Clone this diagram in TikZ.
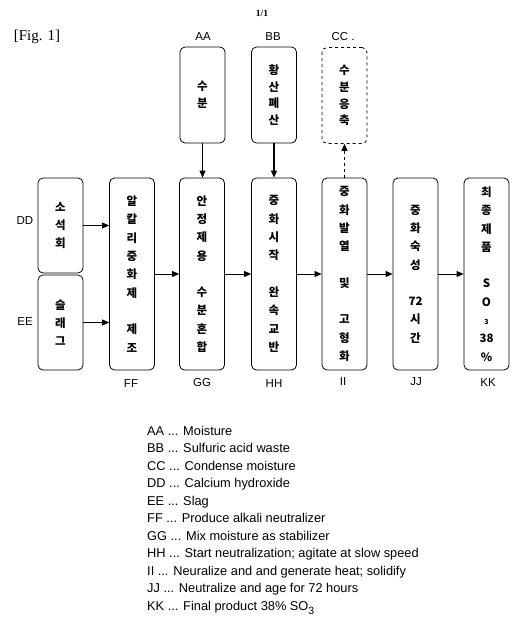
\documentclass[tikz,border=0pt]{standalone}
\usepackage{fontspec}
\setmainfont{Liberation Sans}
\newfontfamily\kr{Noto Sans CJK KR}
\newfontfamily\tms{Liberation Serif}
\usetikzlibrary{arrows.meta}
\begin{document}
\begin{tikzpicture}[x=1pt,y=-1pt,
  box/.style={draw, line width=0.8pt, rounded corners=5pt, minimum width=45pt, inner sep=0pt, align=center, font=\kr\bfseries\fontsize{11.5}{18.3}\selectfont},
  topbox/.style={box, minimum height=96pt, font=\kr\bfseries\fontsize{11.5}{16.8}\selectfont},
  mainbox/.style={box, minimum height=192pt},
  srcbox/.style={box, minimum height=95pt},
  lab/.style={font=\fontsize{11.5}{13}\selectfont},
  arr/.style={line width=0.8pt, -{Triangle[length=7pt,width=6pt]}},
]
\useasboundingbox (0,0) rectangle (525,632);
\node[font=\tms\bfseries\fontsize{9.5}{11}\selectfont] (pg) at (262,13) {1/1};
\node[font=\tms\fontsize{15}{17}\selectfont] (fig) at (37,37) {[Fig. 1]};
% top boxes
\node[topbox] (AA) at (202.5,95) {수\\분};
\node[topbox] (BB) at (274,95) {황\\산\\폐\\산};
\node[topbox, dashed] (CC) at (344.5,95.5) {수\\분\\응\\축};
% source boxes
\node[srcbox] (DD) at (60.5,225.5) {소\\석\\회};
\node[srcbox] (EE) at (60.5,322.5) {슬\\래\\그};
% main boxes
\node[mainbox] (FF) at (132,274) {알\\칼\\리\\중\\화\\제\\[18.3pt]제\\조};
\node[mainbox] (GG) at (202,274) {안\\정\\제\\용\\[18.3pt]수\\분\\혼\\합};
\node[mainbox] (HH) at (274,274) {중\\화\\시\\작\\[18.3pt]완\\속\\교\\반};
\node[mainbox] (II) at (344.5,274) {중\\화\\발\\열\\[18.3pt]및\\[18.3pt]고\\형\\화};
\node[mainbox] (JJ) at (415.5,274) {중\\화\\숙\\성\\[18.3pt]72\\시\\간};
\node[mainbox] (KK) at (486.5,274) {최\\종\\제\\품\\[18.3pt]S\\O\\{\fontsize{7}{7}\selectfont 3}\\38\\\%};
% labels
\node[lab] (lAA) at (203,37) {AA};
\node[lab] (lBB) at (273,37) {BB};
\node[lab, anchor=west] (lCC) at (328,37) {CC .};
\node[lab] (lDD) at (25,221) {DD};
\node[lab] (lEE) at (25,322) {EE};
\node[lab] (lFF) at (131,384) {FF};
\node[lab] (lGG) at (202,383) {GG};
\node[lab] (lHH) at (274,384) {HH};
\node[lab] (lII) at (343,382) {II};
\node[lab] (lJJ) at (416,382) {JJ};
\node[lab] (lKK) at (488,383) {KK};
% arrows
\draw[arr] (DD.east) -- (DD.east -| FF.west);
\draw[arr] (EE.east) -- (EE.east -| FF.west);
\draw[arr] (FF) -- (GG);
\draw[arr] (GG) -- (HH);
\draw[arr] (HH) -- (II);
\draw[arr] (II) -- (JJ);
\draw[arr] (JJ) -- (KK);
\draw[arr] (AA.south) -- (AA.south |- GG.north);
\draw[arr, line width=1.2pt] (BB.south) -- (BB.south |- HH.north);
\draw[arr, dashed] (II.north) -- (II.north |- CC.south);
% legend
\node[anchor=north west, align=left, inner sep=0pt, font=\fontsize{12.8}{17.5}\selectfont] (legend) at (147,426) {%
AA ... Moisture\\
BB ... Sulfuric acid waste\\
CC ... Condense moisture\\
DD ... Calcium hydroxide\\
EE ... Slag\\
FF ... Produce alkali neutralizer\\
GG ... Mix moisture as stabilizer\\
HH ... Start neutralization; agitate at slow speed\\
II ... Neuralize and and generate heat; solidify\\
JJ ... Neutralize and age for 72 hours\\
KK ... Final product 38\% SO\raisebox{-4pt}{\fontsize{10.5}{10.5}\selectfont 3}};
\end{tikzpicture}
\end{document}
